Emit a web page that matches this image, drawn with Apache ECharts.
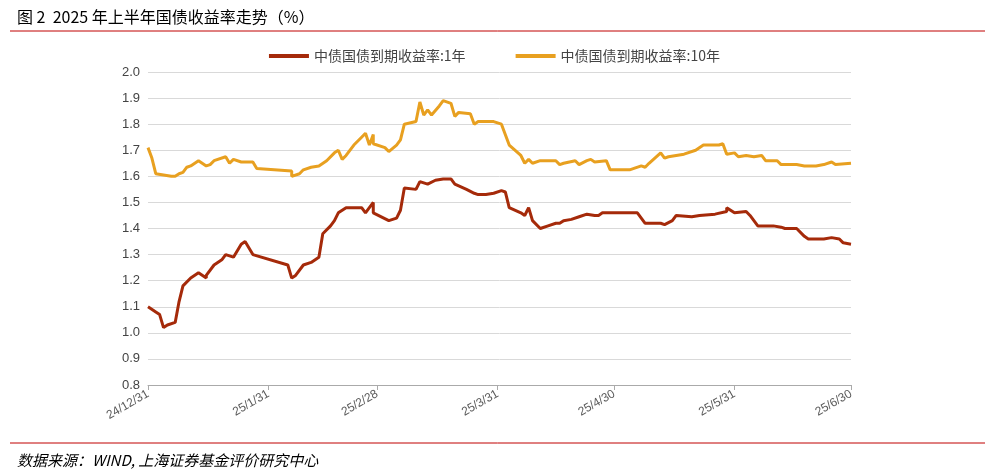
<!DOCTYPE html>
<html><head><meta charset="utf-8">
<script src="https://cdn.jsdelivr.net/npm/echarts@6/dist/echarts.min.js"></script>
<style>html,body{margin:0;padding:0;background:#fff}#c{width:989px;height:473px}</style>
</head><body><div id="c"></div>
<script>
// days since 2024-12-31
const days1 = [0,2,3,4,5,7,8,9,11,13,15,15,17,19,20,22,24,25,27,36,37,38,40,42,44,45,47,48,49,51,55,56,58,58,62,64,65,66,69,70,72,74,76,78,79,82,84,85,87,89,91,92,93,96,97,98,99,101,103,105,106,107,109,111,113,115,116,117,120,124,126,128,132,133,135,136,140,142,146,149,149,151,154,155,157,161,163,164,167,169,170,171,174,176,178,179,181];
const vals1 = [1.10,1.08,1.07,1.02,1.03,1.04,1.12,1.18,1.21,1.23,1.21,1.22,1.26,1.28,1.30,1.29,1.34,1.35,1.30,1.26,1.21,1.22,1.26,1.27,1.29,1.38,1.41,1.43,1.46,1.48,1.48,1.46,1.50,1.46,1.43,1.44,1.47,1.555,1.55,1.58,1.57,1.585,1.59,1.59,1.57,1.55,1.535,1.53,1.53,1.535,1.545,1.54,1.48,1.46,1.45,1.48,1.43,1.40,1.41,1.42,1.42,1.43,1.435,1.445,1.455,1.45,1.45,1.46,1.46,1.46,1.46,1.42,1.42,1.415,1.43,1.45,1.445,1.45,1.455,1.465,1.48,1.46,1.465,1.45,1.41,1.41,1.405,1.40,1.40,1.37,1.36,1.36,1.36,1.365,1.36,1.345,1.34];
const days10 = [0,1,2,6,7,8,9,10,11,13,15,16,17,20,21,22,24,27,28,37,37,39,40,42,44,46,48,49,50,51,53,55,56,57,58,58,61,62,64,65,66,69,70,71,72,73,75,76,78,79,80,83,84,85,89,91,93,96,97,98,99,101,105,106,107,110,111,113,114,115,118,119,123,124,127,128,129,132,133,134,136,138,141,143,147,148,149,151,152,154,156,158,159,162,163,167,169,172,174,176,177,181];
const vals10 = [1.71,1.67,1.61,1.60,1.60,1.61,1.615,1.635,1.64,1.66,1.64,1.645,1.66,1.675,1.65,1.665,1.655,1.655,1.63,1.62,1.60,1.61,1.625,1.635,1.64,1.66,1.69,1.70,1.665,1.68,1.72,1.75,1.765,1.72,1.76,1.725,1.71,1.695,1.72,1.74,1.80,1.81,1.885,1.835,1.855,1.835,1.87,1.89,1.88,1.83,1.845,1.84,1.80,1.81,1.81,1.80,1.72,1.68,1.65,1.665,1.65,1.66,1.66,1.645,1.65,1.66,1.645,1.66,1.665,1.655,1.66,1.625,1.625,1.625,1.64,1.635,1.65,1.69,1.67,1.675,1.68,1.685,1.70,1.72,1.72,1.725,1.685,1.69,1.675,1.68,1.675,1.68,1.66,1.66,1.645,1.645,1.64,1.64,1.645,1.655,1.645,1.65];
const tickDays = [0,31,59,90,120,151,181];
const tickLabels = ['24/12/31','25/1/31','25/2/28','25/3/31','25/4/30','25/5/31','25/6/30'];
const names = ['中债国债到期收益率:1年','中债国债到期收益率:10年'];
const ch=echarts.init(document.getElementById('c'));
ch.setOption({
 animation:false,
 title:[{text:'图 2  2025 年上半年国债收益率走势（%）',left:12,top:4,textStyle:{fontSize:16,fontWeight:'normal',color:'#000',fontFamily:'Noto Sans CJK SC'}},
        {text:'数据来源：WIND, 上海证券基金评价研究中心',left:12,top:448,textStyle:{fontSize:15,fontStyle:'italic',fontWeight:'normal',color:'#000',fontFamily:'Noto Sans CJK SC'}}],
 graphic:[{type:'line',shape:{x1:10,y1:31,x2:985,y2:31},style:{stroke:'#c00000',lineWidth:1}},
          {type:'line',shape:{x1:10,y1:443,x2:985,y2:443},style:{stroke:'#c00000',lineWidth:1}}],
 legend:{top:44,left:'center',itemGap:50,itemWidth:40,itemHeight:4,icon:'rect',textStyle:{fontSize:14,color:'#444',fontFamily:'Noto Sans CJK SC'},data:names},
 grid:{left:148,right:138,top:72,bottom:88},
 xAxis:{type:'value',min:0,max:181,
   axisLine:{lineStyle:{color:'#aaa'}},
   axisTick:{show:true,customValues:tickDays,lineStyle:{color:'#aaa'}},
   axisLabel:{customValues:tickDays,formatter:v=>tickLabels[tickDays.indexOf(Math.round(v))]||'',rotate:30,color:'#595959',fontSize:12,margin:8},
   splitLine:{show:false}},
 yAxis:{type:'value',min:0.8,max:2.0,interval:0.1,
   axisLabel:{formatter:v=>v.toFixed(1),color:'#444',fontSize:13},
   axisLine:{show:false},axisTick:{show:false},
   splitLine:{lineStyle:{color:'#d9d9d9'}}},
 series:[
  {name:names[0],type:'line',showSymbol:false,data:days1.map((d,i)=>[d,vals1[i]]),lineStyle:{width:3,color:'#a52a0a'},itemStyle:{color:'#a52a0a'}},
  {name:names[1],type:'line',showSymbol:false,data:days10.map((d,i)=>[d,vals10[i]]),lineStyle:{width:3,color:'#e8a020'},itemStyle:{color:'#e8a020'}}
 ]
});
</script></body></html>
